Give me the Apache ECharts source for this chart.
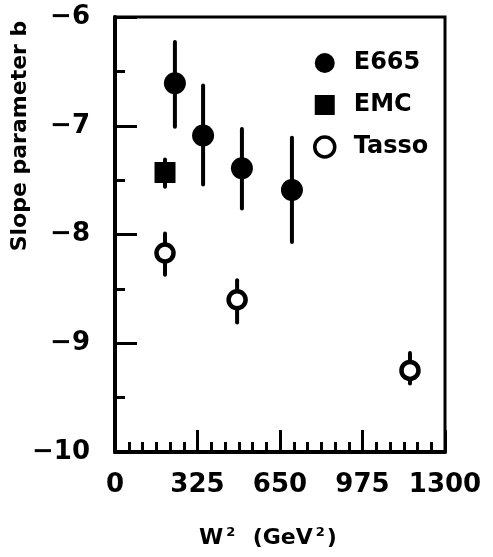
<!DOCTYPE html>
<html>
<head>
<meta charset="utf-8">
<script src="https://cdn.jsdelivr.net/npm/echarts@6/dist/echarts.min.js"></script>
<style>
  html, body { margin: 0; padding: 0; background: #fff; }
  #chart { width: 493px; height: 557px; }
</style>
</head>
<body>
<div id="chart"></div>
<script>
// W^2 (GeV^2) positions and slope parameter b values with error-bar ends
const e665X = [236, 347, 500, 697];
const e665Y = [-6.61, -7.09, -7.39, -7.59];
const e665Hi = [-6.23, -6.63, -7.03, -7.11];
const e665Lo = [-7.01, -7.54, -7.76, -8.07];

const emcX = [197];
const emcY = [-7.43];
const emcHi = [-7.31];
const emcLo = [-7.56];

const tassoX = [197, 481, 1162];
const tassoY = [-8.17, -8.60, -9.25];
const tassoHi = [-7.99, -8.42, -9.09];
const tassoLo = [-8.37, -8.81, -9.37];

const xTickLabels = ['0', '325', '650', '975', '1300'];
const yTickLabels = ['\u221210', '\u22129', '\u22128', '\u22127', '\u22126'];

const FONT = 'DejaVu Sans';
const INK = '#000';

function pairs(xs, ys) { return xs.map((x, i) => [x, ys[i]]); }
function bars(xs, lo, hi) { return xs.map((x, i) => [x, lo[i], hi[i]]); }

function errorBar(params, api) {
  const top = api.coord([api.value(0), api.value(2)]);
  const bot = api.coord([api.value(0), api.value(1)]);
  return {
    type: 'line',
    shape: { x1: top[0], y1: top[1], x2: bot[0], y2: bot[1] },
    style: { stroke: INK, lineWidth: 4, lineCap: 'round' }
  };
}

const chart = echarts.init(document.getElementById('chart'), null, { renderer: 'canvas' });

chart.setOption({
  backgroundColor: '#fff',
  animation: false,
  grid: {
    left: 115, right: 48, top: 17, bottom: 105,
    show: true, borderColor: INK, borderWidth: 3, backgroundColor: 'transparent'
  },
  xAxis: {
    type: 'value', min: 0, max: 1300, interval: 325,
    axisLine: { show: true, onZero: false, lineStyle: { color: INK, width: 4 } },
    axisTick: { show: true, inside: true, length: 22, lineStyle: { color: INK, width: 3 } },
    minorTick: { show: true, splitNumber: 6, length: 10, lineStyle: { color: INK, width: 3 } },
    splitLine: { show: false },
    axisLabel: {
      margin: 20, color: INK, fontFamily: FONT, fontWeight: 'bold', fontSize: 26,
      formatter: (v) => xTickLabels[Math.round(v / 325)]
    }
  },
  yAxis: {
    type: 'value', min: -10, max: -6, interval: 1,
    axisLine: { show: true, onZero: false, lineStyle: { color: INK, width: 4 } },
    axisTick: { show: true, inside: true, length: 22, lineStyle: { color: INK, width: 3 } },
    minorTick: { show: true, splitNumber: 2, length: 10, lineStyle: { color: INK, width: 3 } },
    splitLine: { show: false },
    axisLabel: {
      margin: 25, color: INK, fontFamily: FONT, fontWeight: 'bold', fontSize: 26,
      formatter: (v) => yTickLabels[Math.round(v + 10)]
    }
  },
  legend: {
    orient: 'vertical', left: 308, top: 46,
    itemWidth: 20, itemHeight: 20, itemGap: 18,
    textStyle: { color: INK, fontFamily: FONT, fontWeight: 'bold', fontSize: 24, lineHeight: 22, padding: [0, 0, 0, 14] },
    data: [
      { name: 'E665', icon: 'circle' },
      { name: 'EMC', icon: 'rect' },
      { name: 'Tasso', icon: 'circle', itemStyle: { borderWidth: 3.5 } }
    ]
  },
  graphic: [
    {
      type: 'text', x: 20, y: 136, rotation: Math.PI / 2,
      style: {
        text: 'Slope parameter b', fill: INK,
        font: 'bold 22px "DejaVu Sans"', align: 'center', verticalAlign: 'middle'
      }
    },
    {
      type: 'text', x: 268, y: 538,
      style: {
        text: 'W{sup|2}  (GeV{sup|2})', fill: INK,
        font: 'bold 22px "DejaVu Sans"', align: 'center', verticalAlign: 'middle',
        rich: {
          sup: { fontSize: 13, fontWeight: 'bold', fontFamily: FONT, verticalAlign: 'top', padding: [0, 2, 10, 3] }
        }
      }
    }
  ],
  series: [
    { name: 'E665 err', type: 'custom', renderItem: errorBar, data: bars(e665X, e665Lo, e665Hi), z: 2, silent: true },
    { name: 'EMC err', type: 'custom', renderItem: errorBar, data: bars(emcX, emcLo, emcHi), z: 2, silent: true },
    { name: 'Tasso err', type: 'custom', renderItem: errorBar, data: bars(tassoX, tassoLo, tassoHi), z: 2, silent: true },
    {
      name: 'E665', type: 'scatter', symbol: 'circle', symbolSize: 22, z: 3,
      itemStyle: { color: INK, opacity: 1 },
      data: pairs(e665X, e665Y)
    },
    {
      name: 'EMC', type: 'scatter', symbol: 'rect', symbolSize: [21, 21], z: 3,
      itemStyle: { color: INK, opacity: 1 },
      data: pairs(emcX, emcY)
    },
    {
      name: 'Tasso', type: 'scatter', symbol: 'circle', symbolSize: 17, z: 3,
      itemStyle: { color: '#fff', borderColor: INK, borderWidth: 4.5, opacity: 1 },
      data: pairs(tassoX, tassoY)
    }
  ]
});
</script>
</body>
</html>
